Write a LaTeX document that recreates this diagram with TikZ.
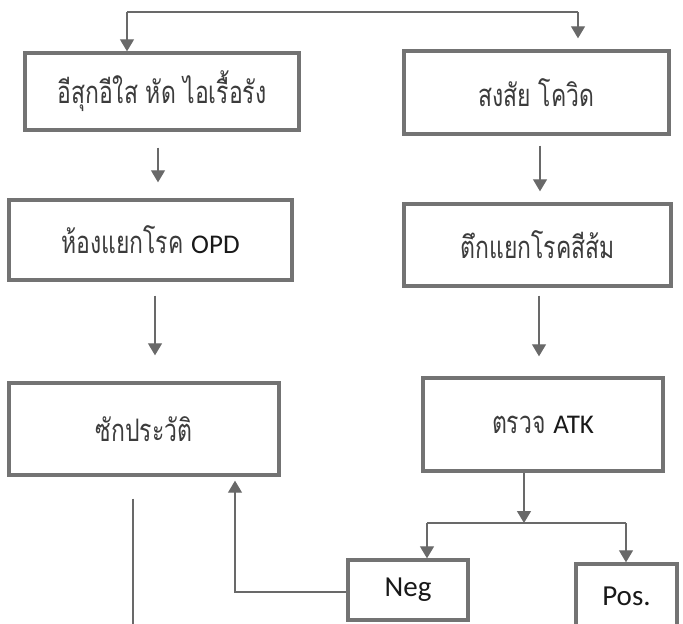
\documentclass[tikz,border=0pt]{standalone}
\usepackage{fontspec}
\setmainfont{Carlito}
\newfontfamily\thai[Script=Thai, FakeStretch=0.74]{Loma}
\newfontfamily\latf{Carlito}
\usetikzlibrary{arrows.meta}
\definecolor{boxgray}{RGB}{115,115,115}
\definecolor{linegray}{RGB}{105,105,105}
\definecolor{txtgray}{RGB}{60,60,60}
\definecolor{latgray}{RGB}{25,25,25}
\newcommand{\lt}[1]{{\latf\fontsize{27}{31}\selectfont\color{latgray}#1}}
\begin{document}
\begin{tikzpicture}[x=1pt,y=-1pt,
  box/.style={draw=boxgray, line width=3.4pt, fill=white, inner sep=0pt, align=center},
  conn/.style={draw=linegray, line width=1.3pt},
  arr/.style={conn, -{Triangle[length=12pt,width=14pt]}},
  thtext/.style={font=\thai\fontsize{31}{36}\selectfont, text=txtgray},
  lat/.style={font=\latf\fontsize{29}{33}\selectfont, text=latgray}
]
\useasboundingbox (0,0) rectangle (683,624);
\clip (0,0) rectangle (683,624);

% boxes
\node[box, thtext, minimum width=274pt, minimum height=77pt] (b1) at (162,91.5) {อีสุกอีใส หัด ไอเรื้อรัง};
\node[box, thtext, minimum width=265pt, minimum height=83pt] (b2) at (536.5,92.5) {สงสัย โควิด};
\node[box, thtext, minimum width=283pt, minimum height=80pt] (b3) at (150.5,240) {ห้องแยกโรค \lt{OPD}};
\node[box, thtext, minimum width=267pt, minimum height=82pt] (b4) at (537.5,245) {ตึกแยกโรคสีส้ม};
\node[box, thtext, minimum width=270pt, minimum height=92pt] (b5) at (144,429) {ซักประวัติ};
\node[box, thtext, minimum width=240pt, minimum height=93pt] (b6) at (543,424.5) {ตรวจ \lt{ATK}};
\node[box, lat, minimum width=120pt, minimum height=60pt] (neg) at (408,590) {Neg};
\node[box, lat, minimum width=101pt, minimum height=64pt] (pos) at (626.5,596) {Pos.};

% top split
\coordinate (tl) at (127,12);
\coordinate (tr) at (578,12);
\draw[conn] (tl) -- (tr);
\draw[arr] (tl) -- (tl |- b1.north);
\draw[arr, shorten >=11pt] (tr) -- (tr |- b2.north);

% column arrows
\draw[arr, shorten <=16pt, shorten >=16pt] ([xshift=-4pt]b1.south) -- ([xshift=-4pt]b1.south |- b3.north);
\draw[arr, shorten <=10pt, shorten >=11pt] ([xshift=3.5pt]b2.south) -- ([xshift=3.5pt]b2.south |- b4.north);
\draw[arr, shorten <=14pt, shorten >=26pt] ([xshift=4.5pt]b3.south) -- ([xshift=4.5pt]b3.south |- b5.north);
\draw[arr, shorten <=8pt, shorten >=20pt] ([xshift=1.5pt]b4.south) -- ([xshift=1.5pt]b4.south |- b6.north);

% ATK split
\coordinate (sp) at (524,523);
\coordinate (sl) at (427,523);
\coordinate (sr) at (626,523);
\draw[arr] (b6.south -| sp) -- (sp);
\draw[conn] (sl) -- (sr);
\draw[arr] (sl) -- (sl |- neg.north);
\draw[arr] (sr) -- (sr |- pos.north);

% Neg back to history
\draw[arr, shorten >=4pt] ([yshift=-2pt]neg.west) -| ([xshift=91pt]b5.south);

% line down from history
\coordinate (bot) at (133,626);
\draw[conn, shorten <=22pt] (b5.south -| bot) -- (bot);
\end{tikzpicture}
\end{document}
